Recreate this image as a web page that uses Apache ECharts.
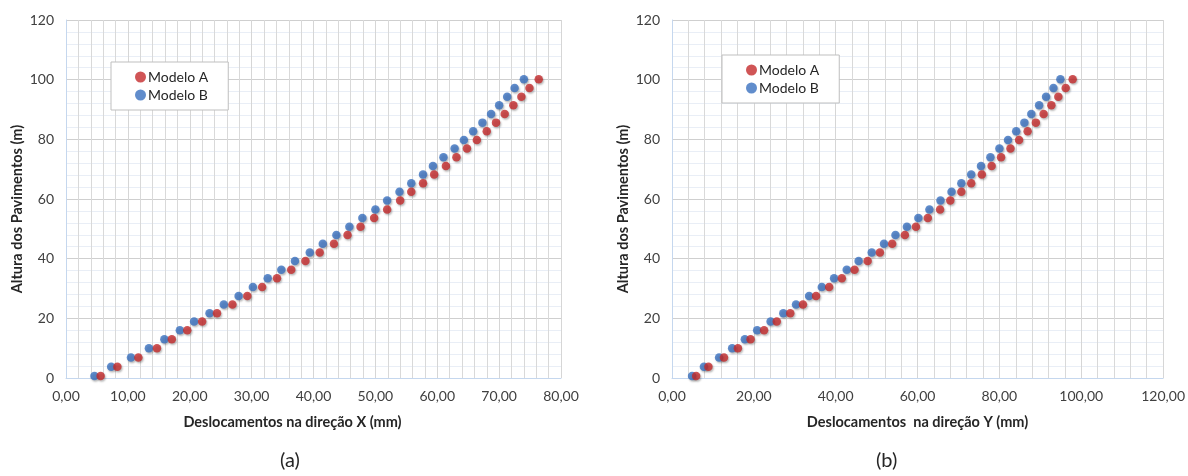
<!DOCTYPE html>
<html>
<head>
<meta charset="utf-8">
<script src="https://cdn.jsdelivr.net/npm/echarts@6/dist/echarts.min.js"></script>
<style>
  html, body { margin: 0; padding: 0; background: #fff; }
  #chart { width: 1188px; height: 476px; }
</style>
</head>
<body>
<div id="chart"></div>
<script>
// altura dos pavimentos (m), mesma para os dois graficos
const alturas = [0.7, 3.8, 6.9, 10.0, 13.0, 16.0, 18.9, 21.7, 24.6, 27.5, 30.5, 33.4, 36.3, 39.2, 42.1,
  45.0, 47.9, 50.7, 53.6, 56.5, 59.5, 62.4, 65.3, 68.2, 71.1, 74.0, 76.9, 79.8, 82.7, 85.6, 88.5,
  91.4, 94.3, 97.2, 100.1];

// (a) deslocamentos na direcao X (mm)
const dxModeloA = [5.6, 8.3, 11.7, 14.7, 17.1, 19.6, 22.0, 24.4, 26.9, 29.3, 31.7, 34.1, 36.4, 38.7, 41.0,
  43.3, 45.5, 47.6, 49.8, 51.9, 54.0, 55.8, 57.7, 59.5, 61.4, 63.1, 64.8, 66.4, 68.0, 69.5, 70.9,
  72.3, 73.6, 74.9, 76.4];
const dxModeloB = [4.6, 7.3, 10.5, 13.4, 15.9, 18.4, 20.7, 23.2, 25.5, 27.9, 30.2, 32.6, 34.8, 37.0, 39.4,
  41.5, 43.7, 45.8, 47.9, 50.0, 51.9, 53.9, 55.8, 57.7, 59.3, 61.0, 62.8, 64.3, 65.8, 67.3, 68.7,
  70.0, 71.3, 72.5, 74.0];

// (b) deslocamentos na direcao Y (mm)
const dyModeloA = [5.9, 8.9, 12.7, 16.1, 19.2, 22.5, 25.6, 28.9, 32.0, 35.2, 38.4, 41.5, 44.6, 47.8, 50.8,
  53.8, 56.9, 59.6, 62.5, 65.5, 68.0, 70.7, 73.1, 75.7, 78.1, 80.4, 82.7, 84.8, 86.9, 88.9, 90.8,
  92.7, 94.4, 96.2, 97.9];
const dyModeloB = [4.9, 7.8, 11.5, 14.7, 17.8, 20.8, 24.1, 27.2, 30.3, 33.5, 36.6, 39.6, 42.7, 45.6, 48.8,
  51.8, 54.6, 57.4, 60.2, 62.9, 65.6, 68.3, 70.7, 73.1, 75.5, 77.8, 80.0, 82.1, 84.1, 86.1, 87.8,
  89.7, 91.4, 93.2, 94.9];

const nomes = ['Modelo A', 'Modelo B'];
const legendas = ['(a)', '(b)'];
const titulosX = ['Deslocamentos na direção X (mm)', 'Deslocamentos  na direção Y (mm)'];
const tituloY = 'Altura dos Pavimentos (m)';

const FONT = 'Lato';
const corA = '#c42a2c';
const corB = '#3a70bf';

const pares = (xs) => xs.map((x, i) => [x, alturas[i]]);
const fmt = (v) => v.toFixed(2).replace('.', ',');

const chart = echarts.init(document.getElementById('chart'), null, {renderer: 'canvas'});

const xAxisBase = (idx, max, interval, namePad) => ({
  gridIndex: idx,
  type: 'value',
  min: 0,
  max: max,
  interval: interval,
  name: titulosX[idx],
  nameLocation: 'middle',
  nameGap: 37,
  nameTextStyle: {fontFamily: FONT, fontWeight: 'bold', fontSize: 14.5, color: '#262626', padding: namePad},
  axisLine: {show: true, lineStyle: {color: '#c5d7ee', width: 1}},
  axisTick: {show: false},
  axisLabel: {fontFamily: FONT, fontSize: 14, color: '#404040', margin: 11, formatter: fmt},
  splitLine: {show: true, lineStyle: {color: '#d6d6d6', width: 1}},
  minorTick: {show: false, splitNumber: 5},
  minorSplitLine: {show: true, lineStyle: {color: '#d9d9d9', width: 1}}
});

const yAxisBase = (idx) => ({
  gridIndex: idx,
  type: 'value',
  min: 0,
  max: 120,
  interval: 20,
  name: tituloY,
  nameLocation: 'middle',
  nameGap: 41,
  nameRotate: 90,
  nameTextStyle: {fontFamily: FONT, fontWeight: 'bold', fontSize: 14.5, color: '#262626', padding: [0, 20, 0, 0]},
  axisLine: {show: true, lineStyle: {color: '#c5d7ee', width: 1}},
  axisTick: {show: false},
  axisLabel: {fontFamily: FONT, fontSize: 14, color: '#404040', margin: 12},
  splitLine: {show: true, lineStyle: {color: '#cfcfcf', width: 1}},
  minorTick: {show: false, splitNumber: 5},
  minorSplitLine: {show: true, lineStyle: {color: '#e9eef6', width: 1}}
});

const serie = (nome, cor, idx, dados) => ({
  name: nome,
  type: 'scatter',
  xAxisIndex: idx,
  yAxisIndex: idx,
  data: pares(dados),
  symbol: 'circle',
  symbolSize: 8.5,
  itemStyle: {
    color: cor,
    shadowColor: 'rgba(0,0,0,0.35)',
    shadowBlur: 2,
    shadowOffsetX: 1,
    shadowOffsetY: 1.5
  },
  emphasis: {disabled: true}
});

const legendaBase = (left, top) => ({
  data: nomes,
  orient: 'vertical',
  left: left,
  top: top,
  backgroundColor: '#fff',
  borderColor: '#bfbfbf',
  borderWidth: 1,
  padding: [8, 20, 8, 24],
  itemWidth: 11,
  itemHeight: 11,
  itemGap: 4,
  icon: 'circle',
  textStyle: {fontFamily: FONT, fontSize: 14, color: '#262626', padding: [0, 0, 0, -3]}
});

const option = {
  animation: false,
  textStyle: {fontFamily: FONT},
  grid: [
    {left: 66, right: 627, top: 20, bottom: 98},
    {left: 672, right: 21, top: 20, bottom: 98}
  ],
  xAxis: [
    xAxisBase(0, 80, 10, [0, 42, 0, 0]),
    xAxisBase(1, 120, 20, [0, 0, 0, 0])
  ],
  yAxis: [yAxisBase(0), yAxisBase(1)],
  legend: [legendaBase(111, 62), legendaBase(722, 55)],
  series: [
    serie(nomes[1], corB, 0, dxModeloB),
    serie(nomes[0], corA, 0, dxModeloA),
    serie(nomes[1], corB, 1, dyModeloB),
    serie(nomes[0], corA, 1, dyModeloA)
  ],
  graphic: [
    {type: 'text', left: 280, top: 451, style: {text: legendas[0], font: '20px ' + FONT, fill: '#262626'}},
    {type: 'text', left: 876, top: 451, style: {text: legendas[1], font: '20px ' + FONT, fill: '#262626'}}
  ]
};

chart.setOption(option);
</script>
</body>
</html>
